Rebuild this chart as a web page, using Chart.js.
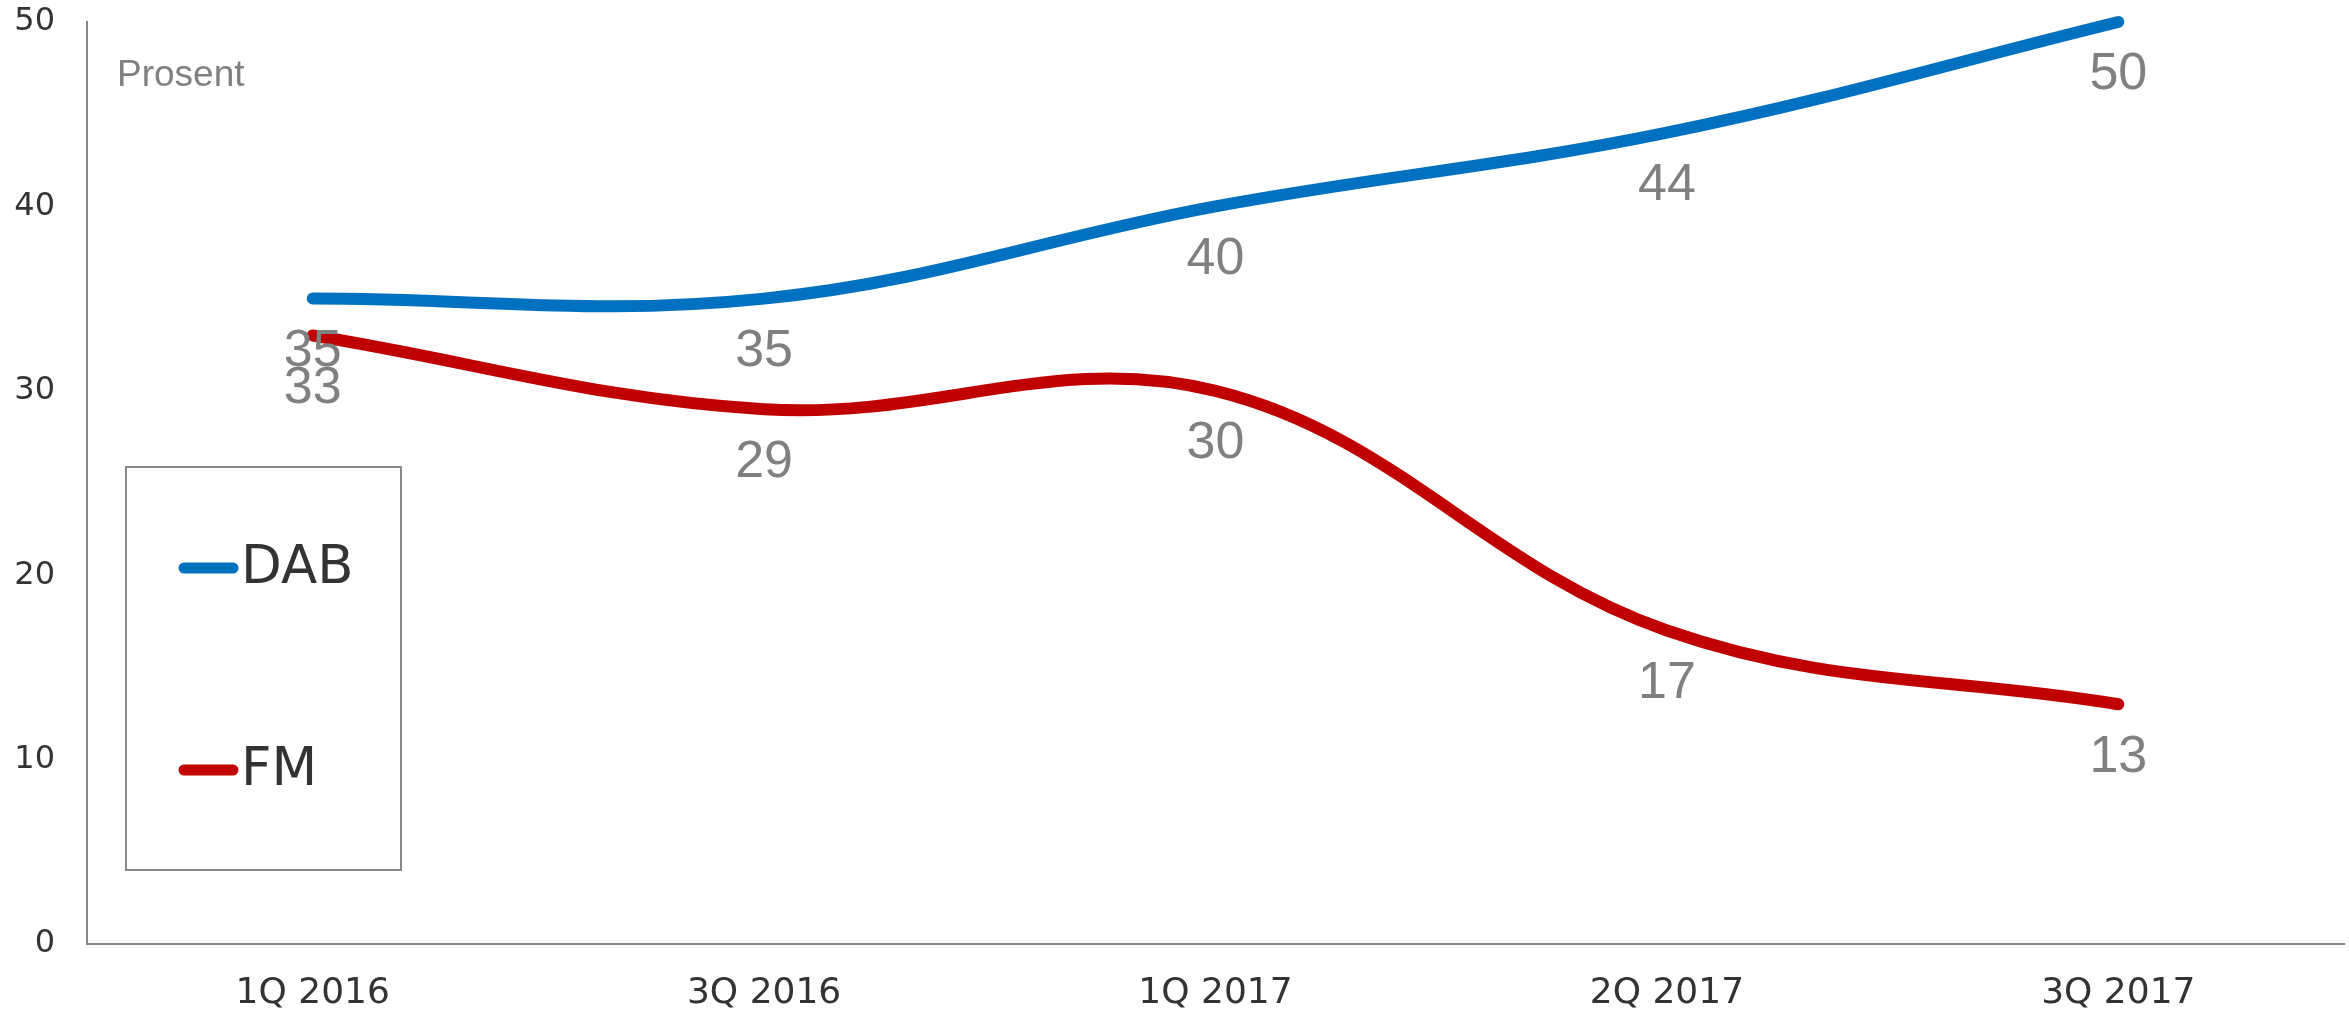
<!DOCTYPE html>
<html>
<head>
<meta charset="utf-8">
<title>DAB / FM</title>
<script src="https://cdn.jsdelivr.net/npm/chart.js@4/dist/chart.umd.min.js"></script>
<style>
  html, body { margin: 0; padding: 0; background: #fff; overflow: hidden; }
  #wrap { width: 2349px; height: 1014px; position: relative; }
</style>
</head>
<body>
<div id="wrap"><canvas id="lineChart"></canvas></div>
<script>
// ---------------------------------------------------------------------------
// Data
// ---------------------------------------------------------------------------
const quarters = ["1Q 2016", "3Q 2016", "1Q 2017", "2Q 2017", "3Q 2017"];
const dabValues = [35, 35, 40, 44, 50];
const fmValues = [33, 29, 30, 17, 13];
const seriesNames = ["DAB", "FM"];
const seriesColors = ["#0070C0", "#C00000"];
const yMin = 0;
const yMax = 50;
const yStep = 10;
const unitLabel = "Prosent";

// Grey value under each point
const valueLabels = {
  id: "valueLabels",
  afterDatasetsDraw(chart) {
    const ctx = chart.ctx;
    ctx.save();
    ctx.font = "52px 'Liberation Sans', Arial, sans-serif";
    ctx.fillStyle = "#808080";
    ctx.textAlign = "center";
    ctx.textBaseline = "middle";
    chart.data.datasets.forEach((ds, i) => {
      chart.getDatasetMeta(i).data.forEach((pt, j) => {
        ctx.fillText(String(ds.data[j]), pt.x, pt.y + 53);
      });
    });
    ctx.restore();
  }
};

// Boxed legend sitting inside the plot, plus the "Prosent" note
const boxLegend = {
  id: "boxLegend",
  afterDraw(chart) {
    const ctx = chart.ctx;
    ctx.save();

    ctx.font = "37px 'Liberation Sans', Arial, sans-serif";
    ctx.fillStyle = "#808080";
    ctx.textAlign = "left";
    ctx.textBaseline = "alphabetic";
    ctx.fillText(unitLabel, 117, 86);

    ctx.strokeStyle = "#888888";
    ctx.lineWidth = 2;
    ctx.strokeRect(126, 467, 275, 403);

    const rows = [568, 770];
    chart.data.datasets.forEach((ds, i) => {
      const y = rows[i];
      ctx.strokeStyle = ds.borderColor;
      ctx.lineWidth = 11;
      ctx.lineCap = "round";
      ctx.beginPath();
      ctx.moveTo(184, y);
      ctx.lineTo(233, y);
      ctx.stroke();
      ctx.fillStyle = "#333333";
      ctx.font = "53px 'DejaVu Sans', Verdana, sans-serif";
      ctx.textBaseline = "middle";
      ctx.fillText(ds.label, 241, y + 1);
    });
    ctx.restore();
  }
};

const datasets = [dabValues, fmValues].map((vals, i) => ({
  label: seriesNames[i],
  data: vals,
  borderColor: seriesColors[i],
  backgroundColor: seriesColors[i],
  borderWidth: 12,
  borderCapStyle: "round",
  borderJoinStyle: "round",
  pointRadius: 0,
  tension: 0.38,
  fill: false,
  clip: false
}));

new Chart(document.getElementById("lineChart"), {
  type: "line",
  data: { labels: quarters, datasets: datasets },
  options: {
    responsive: true,
    maintainAspectRatio: false,
    animation: false,
    layout: { padding: { top: 22, right: 5, left: 0, bottom: 0 } },
    plugins: {
      legend: { display: false },
      tooltip: { enabled: false }
    },
    scales: {
      x: {
        offset: true,
        grid: { display: false, drawTicks: false },
        border: { color: "#868686", width: 2 },
        ticks: {
          padding: 28,
          color: "#333333",
          font: { family: "'DejaVu Sans', Verdana, sans-serif", size: 36 }
        },
        afterFit(scale) {
          scale.height = 70;
          scale.paddingLeft = 0;
          scale.paddingRight = 0;
        }
      },
      y: {
        min: yMin,
        max: yMax,
        grid: { display: false, drawTicks: false },
        border: { color: "#868686", width: 2 },
        ticks: {
          stepSize: yStep,
          padding: 32,
          color: "#333333",
          font: { family: "'DejaVu Sans', Verdana, sans-serif", size: 32 }
        },
        afterFit(scale) {
          scale.width = 87;
          scale.paddingTop = 0;
          scale.paddingBottom = 0;
        }
      }
    }
  },
  plugins: [valueLabels, boxLegend]
});
</script>
</body>
</html>
